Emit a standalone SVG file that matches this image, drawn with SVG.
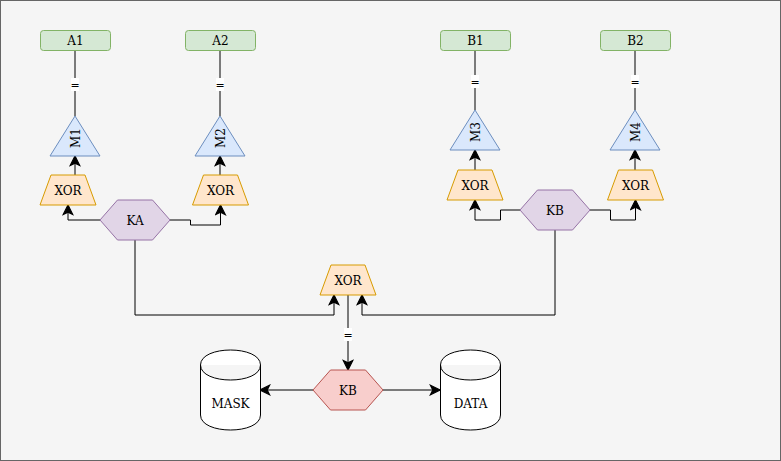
<svg xmlns="http://www.w3.org/2000/svg" width="781" height="461" viewBox="0 0 781 461">
<defs>
<marker id="arr" markerUnits="userSpaceOnUse" markerWidth="12" markerHeight="12" viewBox="0 0 10 10" refX="9" refY="5" orient="auto">
<path d="M1,1 L9,5 L1,9 L3,5 Z" fill="#000" stroke="#000" stroke-width="1"/>
</marker>
</defs>
<style>
text{font-family:"DejaVu Serif","Liberation Serif",serif;font-size:12px;fill:#000;text-anchor:middle}
.lbl{fill:#d5e8d4;stroke:#82b366}
.tri{fill:#dae8fc;stroke:#6c8ebf}
.xor{fill:#ffe6cc;stroke:#d79b00}
.hexp{fill:#e1d5e7;stroke:#9673a6}
.hexr{fill:#f8cecc;stroke:#b85450}
.cyl{fill:#fff;stroke:#000}
.edge{fill:none;stroke:#000;stroke-width:1}
.arrow{marker-end:url(#arr)}
.eqbg{fill:#fff;stroke:none}
.eq{font-size:11px}
</style>
<rect x="0.5" y="0.5" width="780" height="460" fill="#f5f5f5" stroke="#666666"/>

<g id="connectors">
<path class="edge" d="M75,50 L75,116"/>
<path class="edge" d="M220,50 L220,116"/>
<path class="edge" d="M475,50 L475,110"/>
<path class="edge" d="M635,50 L635,110"/>
<path class="edge arrow" d="M75,175 L75,156"/>
<path class="edge arrow" d="M220,175 L220,156"/>
<path class="edge arrow" d="M475,170 L475,150"/>
<path class="edge arrow" d="M635,170 L635,150"/>
<path class="edge arrow" d="M100,220 L68,220 L68,205"/>
<path class="edge arrow" d="M170,220 L190.5,220 L190.5,225 L220.5,225 L220.5,205"/>
<path class="edge arrow" d="M520,210 L500.5,210 L500.5,220 L475,220 L475,200"/>
<path class="edge arrow" d="M590,210 L610.5,210 L610.5,220 L635.5,220 L635.5,200"/>
<path class="edge arrow" d="M135,240 L135,315 L334,315 L334,295"/>
<path class="edge arrow" d="M555,230 L555,315 L362,315 L362,295"/>
<path class="edge arrow" d="M348,295 L348,370"/>
<path class="edge arrow" d="M313,390 L260,390"/>
<path class="edge arrow" d="M383,390 L440,390"/>
<rect class="eqbg" x="71" y="78" width="8" height="13"/>
<text class="eq" x="75" y="88.5">=</text>
<rect class="eqbg" x="216" y="78" width="8" height="13"/>
<text class="eq" x="220" y="88.5">=</text>
<rect class="eqbg" x="471" y="75" width="8" height="13"/>
<text class="eq" x="475" y="85.5">=</text>
<rect class="eqbg" x="631" y="75" width="8" height="13"/>
<text class="eq" x="635" y="85.5">=</text>
<rect class="eqbg" x="344" y="328" width="8" height="13"/>
<text class="eq" x="348" y="338.5">=</text>
</g>

<g id="A1"><rect class="lbl" x="40.5" y="30.5" width="70" height="20" rx="3"/><text x="75.5" y="45">A1</text></g>
<g id="A2"><rect class="lbl" x="185.5" y="30.5" width="70" height="20" rx="3"/><text x="220.5" y="45">A2</text></g>
<g id="B1"><rect class="lbl" x="440.5" y="30.5" width="70" height="20" rx="3"/><text x="475.5" y="45">B1</text></g>
<g id="B2"><rect class="lbl" x="600.5" y="30.5" width="70" height="20" rx="3"/><text x="635.5" y="45">B2</text></g>

<g id="M1"><path class="tri" d="M75,116 L100,156 L50,156 Z"/><text transform="translate(75,138) rotate(-90)" y="4.5">M1</text></g>
<g id="M2"><path class="tri" d="M220,116 L245,156 L195,156 Z"/><text transform="translate(220,138) rotate(-90)" y="4.5">M2</text></g>
<g id="M3"><path class="tri" d="M475,110 L500,150 L450,150 Z"/><text transform="translate(475,132) rotate(-90)" y="4.5">M3</text></g>
<g id="M4"><path class="tri" d="M635,110 L660,150 L610,150 Z"/><text transform="translate(635,132) rotate(-90)" y="4.5">M4</text></g>

<g id="XOR1"><path class="xor" d="M51,175 L85,175 L96,205 L40,205 Z"/><text x="68" y="194.5">XOR</text></g>
<g id="XOR2"><path class="xor" d="M203.5,175 L237.5,175 L248.5,205 L192.5,205 Z"/><text x="220.5" y="194.5">XOR</text></g>
<g id="XOR3"><path class="xor" d="M458,170 L492,170 L503,200 L447,200 Z"/><text x="475" y="189.5">XOR</text></g>
<g id="XOR4"><path class="xor" d="M618.5,170 L652.5,170 L663.5,200 L607.5,200 Z"/><text x="635.5" y="189.5">XOR</text></g>
<g id="XOR5"><path class="xor" d="M331,265 L365,265 L376,295 L320,295 Z"/><text x="348" y="284.5">XOR</text></g>

<g id="KA"><path class="hexp" d="M100,220 L117.5,200 L152.5,200 L170,220 L152.5,240 L117.5,240 Z"/><text x="135" y="224.5">KA</text></g>
<g id="KB1"><path class="hexp" d="M520,210 L537.5,190 L572.5,190 L590,210 L572.5,230 L537.5,230 Z"/><text x="555" y="214.5">KB</text></g>
<g id="KB2"><path class="hexr" d="M313,390 L330.5,370 L365.5,370 L383,390 L365.5,410 L330.5,410 Z"/><text x="348" y="394.5">KB</text></g>

<g id="MASK"><path class="cyl" d="M200.5,365 C200.5,345 260.5,345 260.5,365 L260.5,415 C260.5,435 200.5,435 200.5,415 Z M200.5,365 C200.5,385 260.5,385 260.5,365"/><text x="230.5" y="407.5">MASK</text></g>
<g id="DATA"><path class="cyl" d="M440.5,365 C440.5,345 500.5,345 500.5,365 L500.5,415 C500.5,435 440.5,435 440.5,415 Z M440.5,365 C440.5,385 500.5,385 500.5,365"/><text x="470.5" y="407.5">DATA</text></g>
</svg>
